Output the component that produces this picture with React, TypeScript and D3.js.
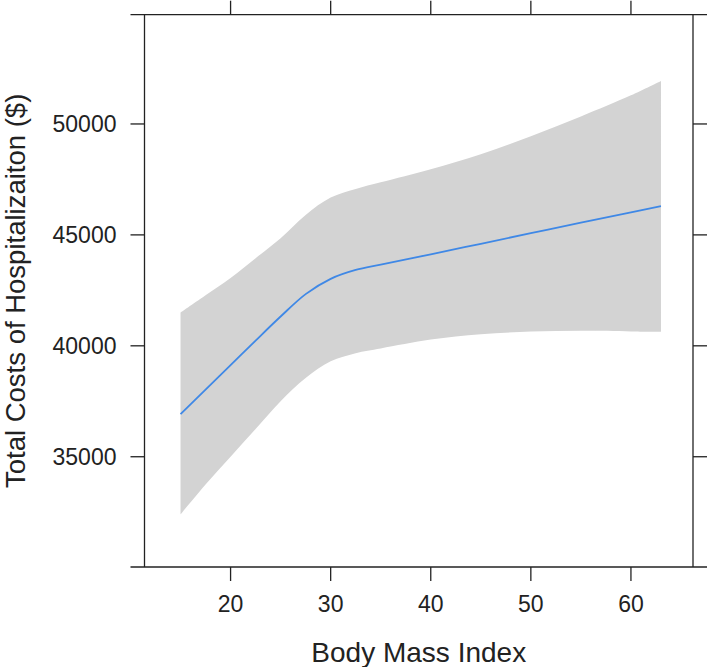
import React from 'react';
import * as d3 from 'd3';

const svgWidth = 709;
const svgHeight = 667;

const left = 144.5;
const right = 693;
const top = 14.7;
const bottom = 567;
const tickLen = 14;

// fitted effect of BMI on total cost, with confidence band
const bmi = [15, 17.5, 20, 22.5, 25, 27.5, 30, 32.5, 35, 40, 45, 50, 55, 60, 63];
const fitCost = [36920, 38030, 39130, 40235, 41320, 42330, 43020, 43420, 43660, 44125, 44600, 45075, 45550, 46020, 46300];
const upperCost = [41500, 42280, 43060, 43950, 44850, 45900, 46680, 47070, 47370, 47960, 48640, 49450, 50340, 51290, 51940];
const lowerCost = [32400, 33750, 35000, 36250, 37500, 38550, 39300, 39670, 39880, 40280, 40520, 40640, 40680, 40650, 40630];

const xTicks = [20, 30, 40, 50, 60];
const yTicks = [35000, 40000, 45000, 50000];

const xLabel = 'Body Mass Index';
const yLabel = 'Total Costs of Hospitalizaiton ($)';

const x = d3.scaleLinear().domain([11.4, 66.2]).range([left, right]);
const y = d3.scaleLinear().domain([30030, 54925]).range([bottom, top]);

const font = '"Liberation Sans", Arial, sans-serif';
const ink = '#222';

export default function App() {
  const idx = bmi.map((_, i) => i);

  const band = d3
    .area<number>()
    .x((i) => x(bmi[i]))
    .y0((i) => y(lowerCost[i]))
    .y1((i) => y(upperCost[i]))
    .curve(d3.curveCatmullRom.alpha(0.5));

  const fitLine = d3
    .line<number>()
    .x((i) => x(bmi[i]))
    .y((i) => y(fitCost[i]))
    .curve(d3.curveCatmullRom.alpha(0.5));

  return (
    <svg
      width={svgWidth}
      height={svgHeight}
      style={{ position: 'absolute', left: 0, top: 0, background: '#fff' }}
      fontFamily={font}
    >
      <path d={band(idx) || ''} fill="#d3d3d3" stroke="none" />
      <path d={fitLine(idx) || ''} fill="none" stroke="#3f88e6" strokeWidth={1.8} />

      {/* frame */}
      <g stroke={ink} strokeWidth={1.3}>
        <line x1={left - tickLen} x2={right + tickLen} y1={top} y2={top} />
        <line x1={left - tickLen} x2={right + tickLen} y1={bottom} y2={bottom} />
        <line x1={left} x2={left} y1={top} y2={bottom} />
        <line x1={right} x2={right} y1={top} y2={bottom} />
      </g>

      {/* x ticks, bottom and top */}
      {xTicks.map((t) => (
        <g key={'x' + t}>
          <line x1={x(t)} x2={x(t)} y1={bottom} y2={bottom + tickLen} stroke={ink} strokeWidth={1.3} />
          <line x1={x(t)} x2={x(t)} y1={top} y2={top - tickLen} stroke={ink} strokeWidth={1.3} />
          <text x={x(t)} y={612.3} textAnchor="middle" fontSize={23} fill={ink}>
            {t}
          </text>
        </g>
      ))}

      {/* y ticks, left and right */}
      {yTicks.map((t) => (
        <g key={'y' + t}>
          <line x1={left} x2={left - tickLen} y1={y(t)} y2={y(t)} stroke={ink} strokeWidth={1.3} />
          <line x1={right} x2={right + tickLen} y1={y(t)} y2={y(t)} stroke={ink} strokeWidth={1.3} />
          <text x={116.5} y={y(t)} dy="0.36em" textAnchor="end" fontSize={23} fill={ink}>
            {t}
          </text>
        </g>
      ))}

      <text x={(left + right) / 2} y={661.5} textAnchor="middle" fontSize={28} fill={ink}>
        {xLabel}
      </text>
      <text
        transform={`translate(25, ${(top + bottom) / 2}) rotate(-90)`}
        textAnchor="middle"
        fontSize={27.5}
        fill={ink}
      >
        {yLabel}
      </text>
    </svg>
  );
}
